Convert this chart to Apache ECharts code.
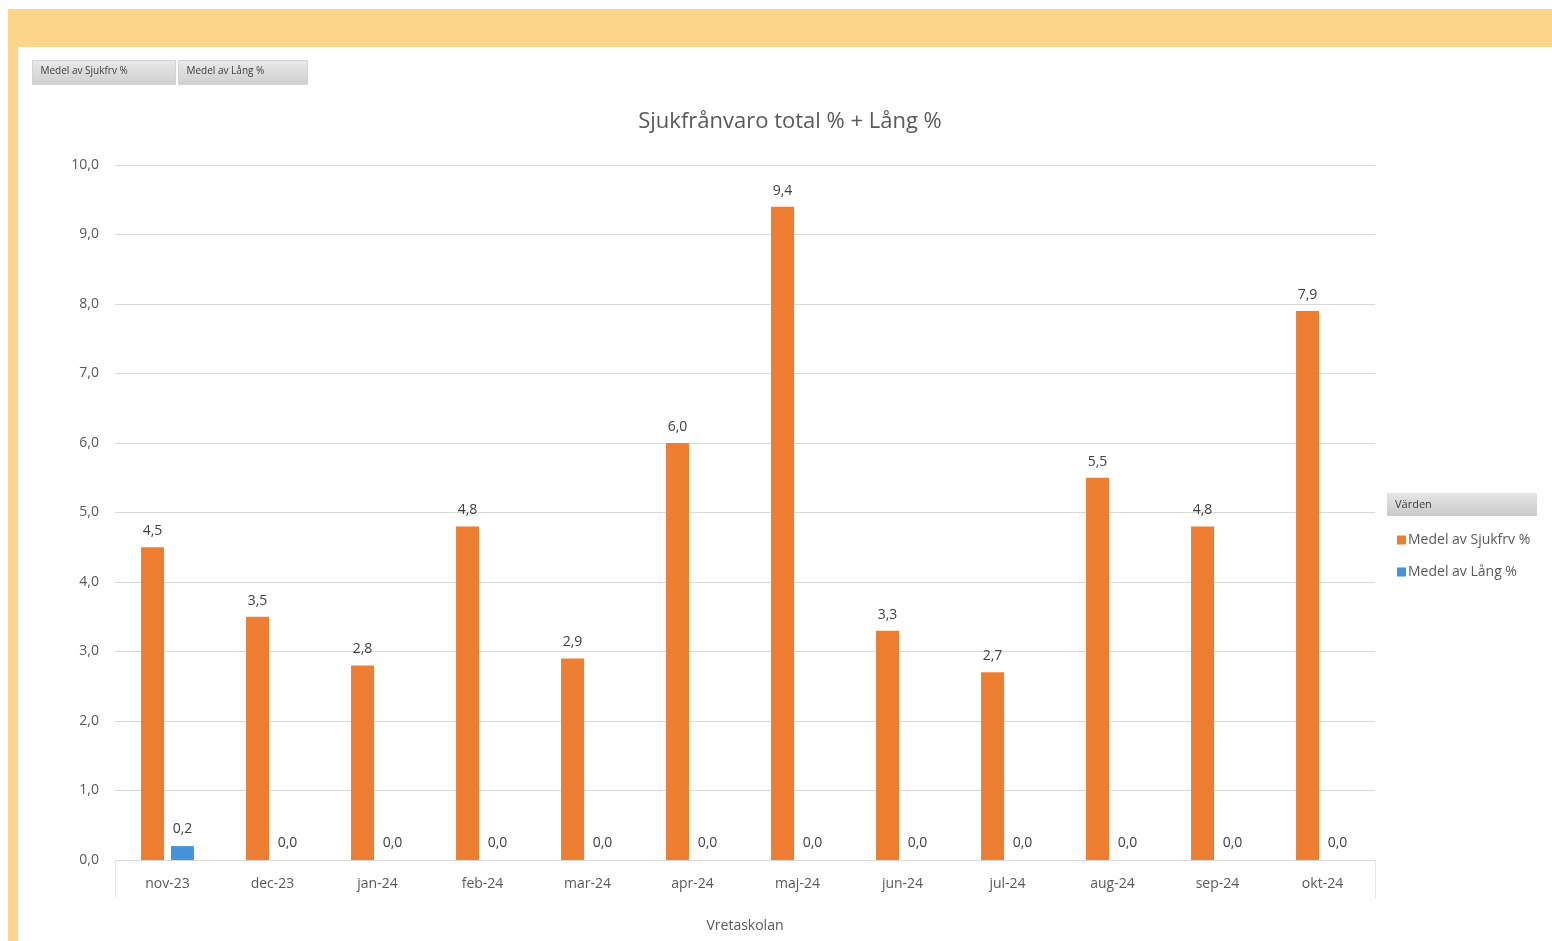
<!DOCTYPE html>
<html>
<head>
<meta charset="utf-8">
<title>Sjukfrånvaro total % + Lång %</title>
<script src="https://cdn.jsdelivr.net/npm/echarts@6/dist/echarts.min.js"></script>
<style>
  html, body { margin: 0; padding: 0; background: #ffffff; }
  #chart { width: 1552px; height: 941px; }
</style>
</head>
<body>
<div id="chart"></div>
<script>
// Months shown on the category axis
const months = ['nov-23', 'dec-23', 'jan-24', 'feb-24', 'mar-24', 'apr-24',
                'maj-24', 'jun-24', 'jul-24', 'aug-24', 'sep-24', 'okt-24'];
// Average total sick leave, percent
const sjukfrv = [4.5, 3.5, 2.8, 4.8, 2.9, 6.0, 9.4, 3.3, 2.7, 5.5, 4.8, 7.9];
// Average long-term sick leave, percent
const lang = [0.2, 0.0, 0.0, 0.0, 0.0, 0.0, 0.0, 0.0, 0.0, 0.0, 0.0, 0.0];
// Value axis ticks
const yTicks = [0, 1, 2, 3, 4, 5, 6, 7, 8, 9, 10];

const seriesNames = ['Medel av Sjukfrv %', 'Medel av Lång %'];
const fieldButtons = ['Medel av Sjukfrv %', 'Medel av Lång %'];

const FONT = '"Open Sans", "Liberation Sans", sans-serif';
const TXT = '#595959';
const fmt = v => v.toFixed(1).replace('.', ',');

const chart = echarts.init(document.getElementById('chart'), null, { renderer: 'canvas' });

const buttonGraphics = fieldButtons.map((t, i) => ({
  type: 'group',
  left: i === 0 ? 32 : 178,
  top: 60,
  children: [
    { type: 'rect', shape: { x: 0, y: 0, width: i === 0 ? 143 : 129, height: 24 },
      style: { fill: new echarts.graphic.LinearGradient(0, 0, 0, 1, [
        { offset: 0, color: '#e9e9e9' }, { offset: 1, color: '#cfcfcf' }]), stroke: '#d4d4d4' } },
    { type: 'text', x: 8, y: 6,
      style: { text: t, font: '10px ' + FONT, fill: '#404040' } }
  ]
}));

const option = {
  animation: false,
  backgroundColor: '#ffffff',
  textStyle: { fontFamily: FONT },
  title: {
    text: 'Sjukfrånvaro total % + Lång %',
    left: 785, textAlign: 'center', top: 106,
    textStyle: { fontFamily: FONT, fontSize: 22, fontWeight: 'normal', color: TXT }
  },
  legend: {
    orient: 'vertical',
    left: 1392, top: 528,
    itemWidth: 9, itemHeight: 9, itemGap: 18,
    icon: 'rect',
    data: seriesNames,
    textStyle: { fontFamily: FONT, fontSize: 14, color: TXT, padding: [0, 0, 0, -3] }
  },
  grid: { left: 115, right: 177, top: 165, bottom: 81, containLabel: false },
  xAxis: {
    type: 'category',
    data: months,
    name: 'Vretaskolan',
    nameLocation: 'middle',
    nameGap: 59,
    nameTextStyle: { fontFamily: FONT, fontSize: 14, color: TXT },
    axisLine: { show: true, lineStyle: { color: '#d9d9d9', width: 1 } },
    // Only the outer boundaries of the category band get a tick line
    axisTick: {
      show: true, length: 38, alignWithLabel: false,
      interval: (i) => i === 0 || i >= months.length,
      lineStyle: { color: '#e6e6e6' }
    },
    axisLabel: { fontFamily: FONT, fontSize: 14, color: TXT, margin: 17 }
  },
  yAxis: {
    type: 'value',
    min: yTicks[0], max: yTicks[yTicks.length - 1], interval: 1,
    axisLine: { show: false },
    axisTick: { show: false },
    splitLine: { lineStyle: { color: '#d9d9d9', width: 1 } },
    axisLabel: { fontFamily: FONT, fontSize: 14, color: TXT, margin: 16, formatter: fmt }
  },
  series: [
    {
      name: seriesNames[0], type: 'bar', data: sjukfrv,
      barWidth: 23, barGap: '30%',
      itemStyle: { color: '#ED7D31' },
      label: { show: true, position: 'top', distance: 9, formatter: p => fmt(p.value),
               fontFamily: FONT, fontSize: 14, color: '#404040' }
    },
    {
      name: seriesNames[1], type: 'bar', data: lang,
      barWidth: 23,
      itemStyle: { color: '#4593DA' },
      label: { show: true, position: 'top', distance: 10, formatter: p => fmt(p.value),
               fontFamily: FONT, fontSize: 14, color: '#404040' }
    }
  ],
  graphic: [
    // Orange frame band on top and left
    { type: 'rect', z: -10, left: 8, top: 9, shape: { width: 1544, height: 38 },
      style: { fill: '#FCD58B' } },
    { type: 'rect', z: -10, left: 8, top: 47, shape: { width: 10, height: 894 },
      style: { fill: '#FCD48C' } },
    // Legend header
    { type: 'group', left: 1387, top: 493, children: [
      { type: 'rect', shape: { x: 0, y: 0, width: 150, height: 23 },
        style: { fill: new echarts.graphic.LinearGradient(0, 0, 0, 1, [
          { offset: 0, color: '#e6e6e6' }, { offset: 1, color: '#c9c9c9' }]) } },
      { type: 'text', x: 8, y: 6, style: { text: 'Värden', font: '11px ' + FONT, fill: '#404040' } }
    ] },
    ...buttonGraphics
  ]
};

chart.setOption(option);
</script>
</body>
</html>
